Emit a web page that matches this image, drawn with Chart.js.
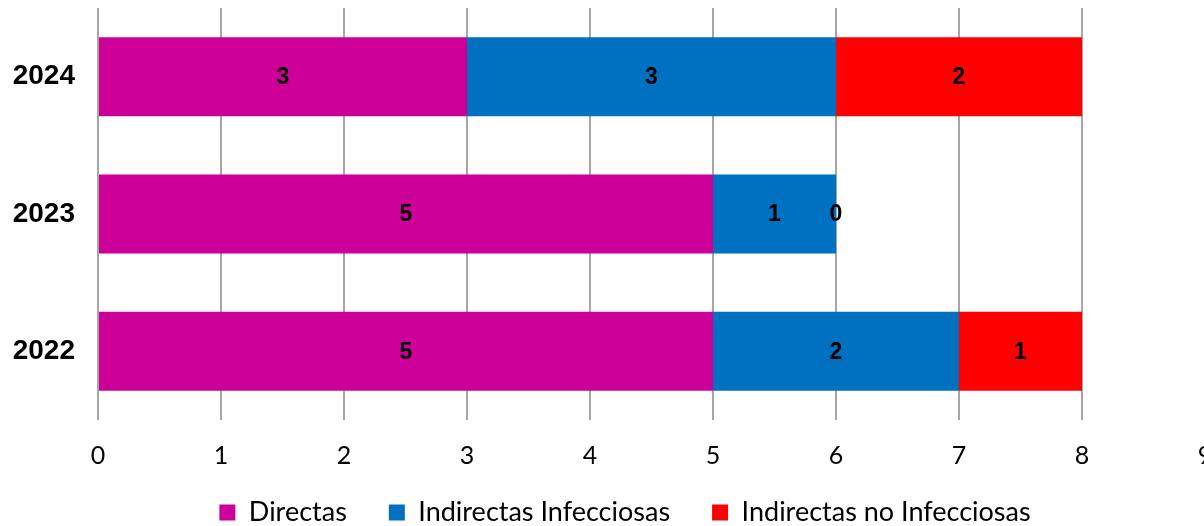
<!DOCTYPE html>
<html>
<head>
<meta charset="utf-8">
<script src="https://cdn.jsdelivr.net/npm/chart.js@4.4.1/dist/chart.umd.min.js"></script>
<style>
  html, body { margin: 0; padding: 0; overflow: hidden; background: #fff; }
  #grafico { display: block; }
</style>
</head>
<body>
<canvas id="grafico" width="1250" height="536"></canvas>
<script>
// datos
var anos = ['2024', '2023', '2022'];
var directas = [3, 5, 5];
var indirectasInfecciosas = [3, 1, 2];
var indirectasNoInfecciosas = [2, 0, 1];
var ticksX = [0, 1, 2, 3, 4, 5, 6, 7, 8, 9];

var altoCanvas = 536;
var paddingLeyenda = 42;
var fuenteLeyenda = 27;

// etiquetas dentro de las barras
const etiquetasBarras = {
  id: 'etiquetasBarras',
  afterDatasetsDraw(chart) {
    const ctx = chart.ctx;
    ctx.save();
    ctx.font = 'bold 23px "Liberation Sans", Arial, sans-serif';
    ctx.fillStyle = '#000';
    ctx.textAlign = 'center';
    ctx.textBaseline = 'middle';
    chart.data.datasets.forEach(function (ds, i) {
      const meta = chart.getDatasetMeta(i);
      meta.data.forEach(function (barra, j) {
        const centro = barra.getCenterPoint();
        ctx.fillText(String(ds.data[j]), centro.x, centro.y + 1);
      });
    });
    ctx.restore();
  }
};

const data = {
  labels: anos,
  datasets: [{
    label: 'Directas',
    data: directas,
    backgroundColor: '#CC0099'
  }, {
    label: 'Indirectas Infecciosas',
    data: indirectasInfecciosas,
    backgroundColor: '#0070C0'
  }, {
    label: 'Indirectas no Infecciosas',
    data: indirectasNoInfecciosas,
    backgroundColor: '#FF0000'
  }]
};

const config = {
  type: 'bar',
  data: data,
  plugins: [etiquetasBarras],
  options: {
    indexAxis: 'y',
    responsive: false,
    animation: false,
    devicePixelRatio: 1,
    categoryPercentage: 1,
    barPercentage: 0.575,
    layout: { padding: { top: 8, right: 0, left: 0, bottom: 0 } },
    scales: {
      x: {
        stacked: true,
        min: 0,
        max: 9,
        afterBuildTicks: function (scale) {
          scale.ticks = ticksX.map(function (v) { return { value: v }; });
        },
        afterFit: function (scale) {
          scale.height = altoCanvas - (paddingLeyenda + fuenteLeyenda + 10) - 420;
          scale.paddingRight = 45;
          // las etiquetas salen por debajo de la caja del eje
          scale._computeLabelArea = function () { return null; };
        },
        grid: { color: '#a6a6a6', lineWidth: 2, drawTicks: false },
        border: { display: false },
        ticks: {
          padding: 21,
          color: '#000',
          font: { family: 'Lato', size: 25 }
        }
      },
      y: {
        stacked: true,
        afterFit: function (scale) {
          scale.width = 98;
          scale.paddingTop = 0;
          scale.paddingBottom = 0;
        },
        grid: { display: false, drawTicks: false },
        border: { display: false },
        ticks: {
          padding: 23,
          color: '#000',
          font: { family: '"Liberation Sans", Arial', size: 28, weight: 'bold' }
        }
      }
    },
    plugins: {
      tooltip: { enabled: false },
      legend: {
        position: 'bottom',
        labels: {
          boxWidth: 16,
          boxHeight: 16,
          padding: paddingLeyenda,
          color: '#000',
          font: { family: 'Lato', size: fuenteLeyenda }
        }
      }
    }
  }
};

const ctx = document.getElementById('grafico').getContext('2d');
const grafico01 = new Chart(ctx, config);
</script>
</body>
</html>
